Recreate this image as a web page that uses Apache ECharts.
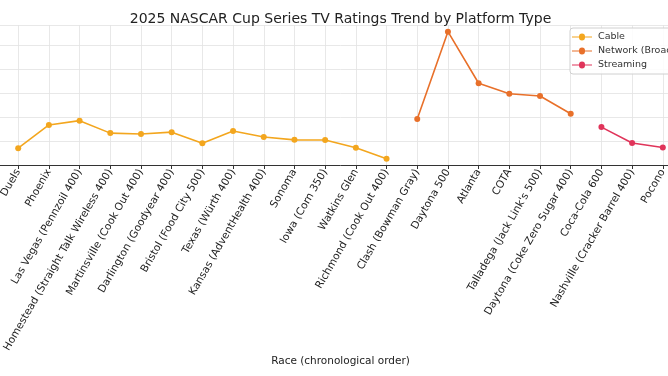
<!DOCTYPE html>
<html>
<head>
<meta charset="utf-8">
<script src="https://cdn.jsdelivr.net/npm/echarts@6/dist/echarts.min.js"></script>
<style>html,body{margin:0;padding:0;background:#fff;overflow:hidden;width:668px;height:376px;position:relative;}
#c{position:absolute;left:-14px;top:0;width:709px;height:376px;}</style>
</head>
<body>
<div id="c"></div>
<script>
const categories = ["Duels","Phoenix","Las Vegas (Pennzoil 400)","Homestead (Straight Talk Wireless 400)","Martinsville (Cook Out 400)","Darlington (Goodyear 400)","Bristol (Food City 500)","Texas (Würth 400)","Kansas (AdventHealth 400)","Sonoma","Iowa (Corn 350)","Watkins Glen","Richmond (Cook Out 400)","Clash (Bowman Gray)","Daytona 500","Atlanta","COTA","Talladega (Jack Link's 500)","Daytona (Coke Zero Sugar 400)","Coca-Cola 600","Nashville (Cracker Barrel 400)","Pocono"];
const cableIdx = [0,1,2,3,4,5,6,7,8,9,10,11,12];
const cableVals = [1.86,2.83,3.01,2.49,2.45,2.53,2.07,2.58,2.33,2.21,2.20,1.88,1.42];
const networkIdx = [13,14,15,16,17,18];
const networkVals = [3.08,6.72,4.57,4.13,4.04,3.30];
const streamingIdx = [19,20,21];
const streamingVals = [2.74,2.08,1.89];
const seriesNames = ["Cable","Network (Broadcast)","Streaming"];
const colors = ["#F3A61E","#E8702A","#E0345A"];

const pair = (idx, vals) => idx.map((i, k) => [i, vals[k]]);
const font = "DejaVu Sans";
const chart = echarts.init(document.getElementById('c'), null, {renderer:'canvas'});
const mk = (name, data, color) => ({
  name, type:'line', data, color,
  symbol:'circle', symbolSize:6,
  lineStyle:{width:1.6, color},
  itemStyle:{color},
  emphasis:{disabled:true}
});
chart.setOption({
  animation:false,
  backgroundColor:'#fff',
  title:{text:"2025 NASCAR Cup Series TV Ratings Trend by Platform Type", left:'center', top:7,
    textStyle:{fontFamily:font, fontSize:14, fontWeight:'normal', color:'#222'}},
  legend:{orient:'vertical', left:584, top:28, data:seriesNames,
    icon:'path://M0,4.5 L7,4.5 A2.5,2.5 0 1 1 13,4.5 L20,4.5 L20,5.5 L13,5.5 A2.5,2.5 0 1 1 7,5.5 L0,5.5 Z',
    itemWidth:20, itemHeight:9, itemGap:4,
    backgroundColor:'rgba(255,255,255,0.85)', borderColor:'#d0d0d0', borderWidth:1, borderRadius:3,
    padding:[4,6,4,2],
    textStyle:{fontFamily:font, fontSize:9.5, color:'#333', padding:[0,0,0,1]}},
  grid:{left:1.5, right:1.5, top:25, bottom:211},
  xAxis:{type:'value', min:-1, max:22, interval:1,
    name:"Race (chronological order)", nameLocation:'middle', nameGap:191,
    nameTextStyle:{fontFamily:font, fontSize:10.5, color:'#222'},
    axisLine:{show:true, onZero:false, lineStyle:{color:'#333', width:1}},
    axisTick:{show:true, length:4, lineStyle:{color:'#333'}},
    axisLabel:{rotate:60, margin:5, fontFamily:font, fontSize:10.5, color:'#222',
      formatter:v => { const r = Math.round(v); return (Math.abs(v-r)<1e-6 && r>=0 && r<categories.length) ? categories[r] : ''; }},
    splitLine:{show:true, lineStyle:{color:'#e2e2e2', width:0.8}}},
  yAxis:{type:'value', min:1.16, max:7, interval:1,
    axisLine:{show:false}, axisTick:{show:false}, axisLabel:{show:false},
    splitLine:{show:true, lineStyle:{color:'#e2e2e2', width:0.8}}},
  series:[
    mk(seriesNames[0], pair(cableIdx, cableVals), colors[0]),
    mk(seriesNames[1], pair(networkIdx, networkVals), colors[1]),
    mk(seriesNames[2], pair(streamingIdx, streamingVals), colors[2])
  ]
});
</script>
</body>
</html>
